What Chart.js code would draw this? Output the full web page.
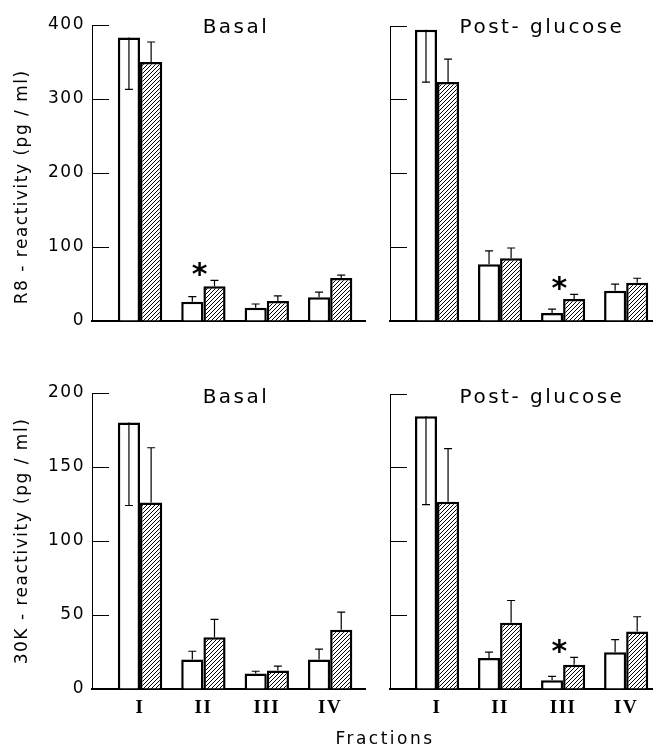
<!DOCTYPE html>
<html>
<head>
<meta charset="utf-8">
<script src="https://cdn.jsdelivr.net/npm/chart.js@4.4.1/dist/chart.umd.min.js"></script>
<style>
  body { margin: 0; background: #fff; }
  #wrap { position: relative; width: 658px; height: 746px; }
  canvas { position: absolute; }
  #xtitle {
    position: absolute; left: 0; width: 770px; top: 728px; text-align: center;
    font: 17px "DejaVu Sans"; letter-spacing: 2.5px; color: #000;
  }
</style>
</head>
<body>
<div id="wrap">
  <canvas id="r8Basal" width="370" height="335" style="left:0;top:0"></canvas>
  <canvas id="r8Post" width="288" height="335" style="left:370px;top:0"></canvas>
  <canvas id="k30Basal" width="370" height="406" style="left:0;top:340px"></canvas>
  <canvas id="k30Post" width="288" height="406" style="left:370px;top:340px"></canvas>
  <div id="xtitle">Fractions</div>
</div>
<script>
const fractions = ['I', 'II', 'III', 'IV'];
const r8Ticks = [0, 100, 200, 300, 400];
const k30Ticks = [0, 50, 100, 150, 200];

// R8 reactivity, basal (negative error = drawn downwards)
const r8BasalOpen = [383, 26, 18, 32];
const r8BasalOpenErr = [-70, 7, 5, 7];
const r8BasalHatch = [350, 47, 27, 58];
const r8BasalHatchErr = [27, 8, 7, 4];
const r8BasalSig = [false, true, false, false];

// R8 reactivity, post-glucose
const r8PostOpen = [395, 77, 11, 41];
const r8PostOpenErr = [-71, 18, 5, 9];
const r8PostHatch = [324, 85, 30, 52];
const r8PostHatchErr = [31, 14, 6, 6];
const r8PostSig = [false, false, true, false];

// 30K reactivity, basal
const k30BasalOpen = [180, 20, 10.5, 20];
const k30BasalOpenErr = [-56, 5.5, 1.5, 7];
const k30BasalHatch = [126, 35, 12.5, 40];
const k30BasalHatchErr = [37, 12, 3, 12];
const k30BasalSig = [false, false, false, false];

// 30K reactivity, post-glucose
const k30PostOpen = [185, 21, 6, 25];
const k30PostOpenErr = [-60, 4, 2.5, 8.5];
const k30PostHatch = [127, 45, 16.5, 39];
const k30PostHatchErr = [36, 15, 5, 10];
const k30PostSig = [false, false, true, false];

function hatchPattern() {
    const c = document.createElement('canvas');
    c.width = 4;
    c.height = 4;
    const g = c.getContext('2d');
    g.fillStyle = '#fff';
    g.fillRect(0, 0, 4, 4);
    g.strokeStyle = '#000';
    g.lineWidth = 1;
    g.beginPath();
    g.moveTo(-1, 5); g.lineTo(5, -1);
    g.moveTo(-1, 1); g.lineTo(1, -1);
    g.moveTo(3, 5); g.lineTo(5, 3);
    g.stroke();
    return g.createPattern(c, 'repeat');
}

const extras = {
    id: 'extras',
    beforeDraw(chart) {
        chart.ctx.letterSpacing = '1.5px';
    },
    afterDatasetsDraw(chart, args, opts) {
        const ctx = chart.ctx;
        const y = chart.scales.y;
        const x = chart.scales.x;
        ctx.save();
        ctx.strokeStyle = '#000';
        ctx.lineWidth = 1.2;
        chart.data.datasets.forEach((ds, d) => {
            chart.getDatasetMeta(d).data.forEach((bar, i) => {
                const v = ds.data[i].y;
                const end = y.getPixelForValue(v + ds.errors[i]);
                ctx.beginPath();
                ctx.moveTo(bar.x, bar.y);
                ctx.lineTo(bar.x, end);
                ctx.moveTo(bar.x - 4, end);
                ctx.lineTo(bar.x + 4, end);
                ctx.stroke();
            });
        });
        // significance stars
        ctx.fillStyle = '#000';
        ctx.font = 'bold 30px "DejaVu Sans"';
        ctx.textAlign = 'center';
        ctx.textBaseline = 'alphabetic';
        opts.sig.forEach((s, i) => {
            if (!s) return;
            const ds = chart.data.datasets[1];
            const top = y.getPixelForValue(ds.data[i].y + ds.errors[i]);
            ctx.fillText('*', x.getPixelForValue(i + 1) - 3, top - 13 + 17);
        });
        // panel title
        ctx.letterSpacing = '2.5px';
        ctx.font = '20px "DejaVu Sans"';
        ctx.textBaseline = 'middle';
        ctx.fillText(opts.title, chart.chartArea.left + opts.dx, chart.chartArea.top + opts.dy);
        ctx.restore();
    }
};

function makePanel(id, p) {
    const ctx = document.getElementById(id).getContext('2d');
    const pts = vals => fractions.map((f, i) => ({ x: i + 1, y: vals[i] }));
    return new Chart(ctx, {
        type: 'bar',
        data: {
            datasets: [
                { label: 'open', data: pts(p.open), errors: p.openErr, backgroundColor: '#fff' },
                { label: 'hatched', data: pts(p.hatch), errors: p.hatchErr, backgroundColor: hatchPattern() }
            ]
        },
        plugins: [extras],
        options: {
            responsive: false,
            animation: false,
            layout: { padding: p.pad },
            datasets: {
                bar: {
                    borderColor: '#000',
                    borderWidth: 2.5,
                    categoryPercentage: 0.7,
                    barPercentage: 1.0
                }
            },
            plugins: {
                legend: { display: false },
                tooltip: { enabled: false },
                extras: { title: p.title, dx: p.dx, dy: p.dy, sig: p.sig }
            },
            scales: {
                x: {
                    type: 'linear',
                    offset: false,
                    min: p.xmin,
                    max: p.xmax,
                    afterBuildTicks: s => { s.ticks = fractions.map((f, i) => ({ value: i + 1 })); },
                    afterFit: s => { s.height = p.xh; s.paddingLeft = 0; s.paddingRight = 0; },
                    grid: { display: false, drawTicks: false, offset: false },
                    border: { display: true, color: '#000', width: 2 },
                    ticks: {
                        display: p.xlabels,
                        padding: 8,
                        color: '#000',
                        font: { family: '"Liberation Serif"', size: 19, weight: 'bold' },
                        callback: v => fractions[v - 1]
                    }
                },
                y: {
                    min: 0,
                    max: p.ticks[p.ticks.length - 1],
                    afterBuildTicks: s => { s.ticks = p.ticks.map(v => ({ value: v })); },
                    afterFit: s => { s.width = p.yw; s.paddingTop = 0; s.paddingBottom = 0; },
                    grid: { drawOnChartArea: false, drawTicks: true, tickLength: -17, color: '#000', lineWidth: 1 },
                    border: { display: true, color: '#000', width: 1 },
                    ticks: {
                        display: p.ylabels,
                        padding: 24,
                        color: '#000',
                        font: { family: '"DejaVu Sans"', size: 17 }
                    },
                    title: {
                        display: !!p.ytitle,
                        text: p.ytitle,
                        color: '#000',
                        padding: { top: 12, bottom: 0 },
                        font: { family: '"DejaVu Sans"', size: 17 }
                    }
                }
            }
        }
    });
}

makePanel('r8Basal', {
    open: r8BasalOpen, openErr: r8BasalOpenErr, hatch: r8BasalHatch, hatchErr: r8BasalHatchErr,
    sig: r8BasalSig, ticks: r8Ticks, title: 'Basal', ytitle: 'R8 - reactivity (pg / ml)    ',
    ylabels: true, xlabels: false, xmin: 0.242, xmax: 4.55, yw: 92, xh: 14,
    pad: { left: 0, top: 25, right: 5, bottom: 0 }, dx: 144, dy: 3
});
makePanel('r8Post', {
    open: r8PostOpen, openErr: r8PostOpenErr, hatch: r8PostHatch, hatchErr: r8PostHatchErr,
    sig: r8PostSig, ticks: r8Ticks, title: 'Post- glucose', ytitle: '',
    ylabels: false, xlabels: false, xmin: 0.254, xmax: 4.41, yw: 20, xh: 14,
    pad: { left: 0, top: 26, right: 6, bottom: 0 }, dx: 152, dy: 2
});
makePanel('k30Basal', {
    open: k30BasalOpen, openErr: k30BasalOpenErr, hatch: k30BasalHatch, hatchErr: k30BasalHatchErr,
    sig: k30BasalSig, ticks: k30Ticks, title: 'Basal', ytitle: '30K - reactivity (pg / ml)',
    ylabels: true, xlabels: true, xmin: 0.242, xmax: 4.55, yw: 92, xh: 57,
    pad: { left: 0, top: 53, right: 5, bottom: 0 }, dx: 144, dy: 5
});
makePanel('k30Post', {
    open: k30PostOpen, openErr: k30PostOpenErr, hatch: k30PostHatch, hatchErr: k30PostHatchErr,
    sig: k30PostSig, ticks: k30Ticks, title: 'Post- glucose', ytitle: '',
    ylabels: false, xlabels: true, xmin: 0.254, xmax: 4.41, yw: 20, xh: 57,
    pad: { left: 0, top: 54, right: 6, bottom: 0 }, dx: 152, dy: 4
});
</script>
</body>
</html>
